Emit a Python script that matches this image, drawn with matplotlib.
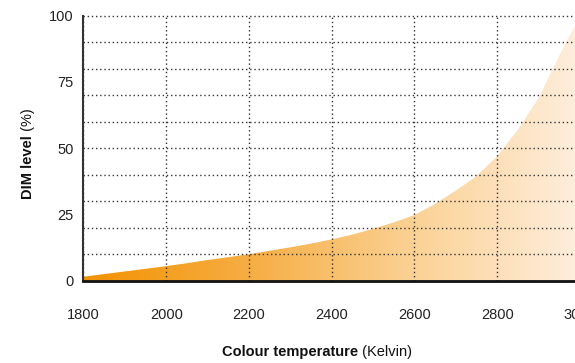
import matplotlib
matplotlib.use("Agg")
import matplotlib.pyplot as plt
import numpy as np
from matplotlib.colors import LinearSegmentedColormap
from matplotlib.ticker import MultipleLocator

plt.rcParams['font.family'] = ['Liberation Sans', 'DejaVu Sans']

# colour temperature (K) vs DIM level (%)
kelvin = [1800, 1850, 1900, 1950, 2000, 2050, 2100, 2150, 2200, 2250, 2300,
          2350, 2400, 2450, 2500, 2550, 2600, 2650, 2700, 2750, 2800, 2850,
          2900, 2950, 3000]
dim_level = [1.5, 2.5, 3.5, 4.5, 5.5, 6.6, 7.8, 8.9, 10.0, 11.3, 12.6,
             14.0, 15.6, 17.4, 19.6, 22.0, 24.8, 29.0, 34.0, 39.5, 47.0, 57.0,
             69.0, 85.0, 100.0]
x_ticks = [1800, 2000, 2200, 2400, 2600, 2800, 3000]
y_ticks = [0, 25, 50, 75, 100]

grad = LinearSegmentedColormap.from_list(
    "warm", [(0.0, "#F39200"), (0.34, "#F6AE45"), (0.68, "#FBD398"), (1.0, "#FEEEDD")])

fig = plt.figure(figsize=(5.75, 3.63), dpi=100)
ax = fig.add_axes([0.1452, 0.2267, 0.8635, 0.7300])

x = np.array(kelvin)
y = np.array(dim_level)
ax.set_xlim(1800, 3000)
ax.set_ylim(0, 100)

# gradient fill clipped to the area under the curve
poly = ax.fill_between(x, 0, y, color="none", lw=0)
img = ax.imshow(np.linspace(0, 1, 256).reshape(1, -1), cmap=grad, aspect="auto",
                extent=[1800, 3000, 0, 100], origin="lower", zorder=1)
img.set_clip_path(poly.get_paths()[0], transform=ax.transData)

ax.set_xticks(x_ticks)
ax.set_yticks(y_ticks)
ax.yaxis.set_minor_locator(MultipleLocator(10))
ax.yaxis.remove_overlapping_locs = False
ax.set_axisbelow(False)
dots = dict(color="#333333", linestyle=(0, (1, 2)), lw=1.0, clip_on=False)
ax.grid(True, which="major", axis="x", **dots)
ax.grid(True, which="minor", axis="y", **dots)
ax.tick_params(which="both", length=0)
ax.tick_params(axis="y", pad=7, labelsize=10.5, labelcolor="#222222")
ax.tick_params(axis="x", pad=20, labelsize=10.5, labelcolor="#222222")

for s in ["top", "right"]:
    ax.spines[s].set_visible(False)
ax.spines["left"].set_color("#333333")
ax.spines["left"].set_linewidth(1.5)
ax.spines["bottom"].set_color("#111111")
ax.spines["bottom"].set_linewidth(2)
ax.spines["left"].set_zorder(3)
ax.spines["bottom"].set_zorder(3)

# axis titles: bold part + regular part
t1 = fig.text(222 / 575, 1 - 352 / 363, "Colour temperature", fontsize=10.5,
              fontweight="bold", ha="left", va="center", color="#111111")
ax.annotate(" (Kelvin)", xy=(1, 0), xycoords=t1, ha="left", va="bottom",
            fontsize=10.5, color="#111111", annotation_clip=False)

t2 = fig.text(28 / 575, 1 - 199 / 363, "DIM level", fontsize=10.5, fontweight="bold",
              rotation=90, ha="center", va="bottom", color="#111111")
ax.annotate(" (%)", xy=(0.5, 1), xycoords=t2, ha="center", va="bottom",
            rotation=90, fontsize=10.5, color="#111111", annotation_clip=False)

fig.savefig("out.png", dpi=100)
